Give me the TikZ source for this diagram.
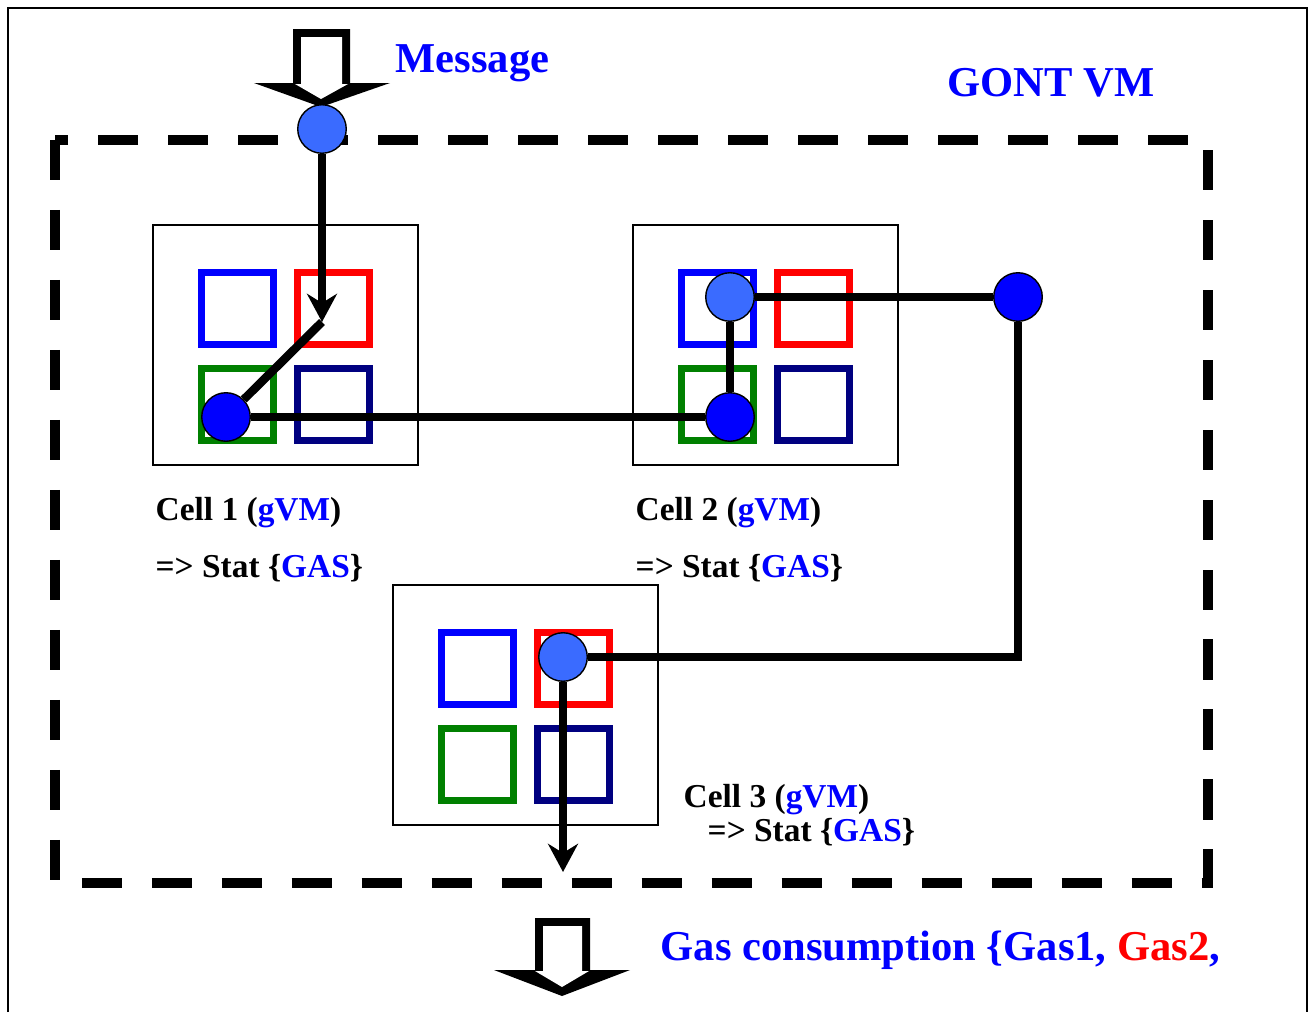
\documentclass[tikz,border=0pt]{standalone}
\usepackage{fontspec}
\setmainfont{Liberation Serif}
\usetikzlibrary{arrows.meta}
\definecolor{gblue}{RGB}{0,0,255}
\definecolor{lblue}{RGB}{58,107,255}
\definecolor{gnavy}{RGB}{0,0,128}
\definecolor{ggreen}{RGB}{0,128,0}
\definecolor{gred}{RGB}{255,0,0}
\tikzset{hub/.style={circle, draw, line width=0.4pt, fill=gblue, minimum size=13.8pt, inner sep=0pt},
  hubl/.style={hub, fill=lblue},
  wire/.style={line width=2.4pt},
  wirearr/.style={wire, -{Stealth[length=8pt,width=8.5pt]}},
  lbl/.style={anchor=base west, inner sep=0pt, font=\bfseries\fontsize{9.5}{11}\selectfont},
  biglbl/.style={lbl, text=gblue, font=\bfseries\fontsize{12.1}{14}\selectfont}}

\begin{document}
\begin{tikzpicture}[x=0.01cm, y=-0.01cm]
  \useasboundingbox (0,0) rectangle (1315,1012);
  \draw[line width=0.6pt] (8,1012) -- (8,8) -- (1307,8) -- (1307,1012); % frame
  % cells with their four gVM squares
  \foreach \x/\y in {153/225, 633/225, 393/585} {
    \draw[line width=0.6pt] (\x,\y) rectangle ++(265,240);
    \draw[gblue, line width=2pt] (\x+48.5,\y+47.5) rectangle ++(72,72);
    \draw[gred, line width=2pt] (\x+144.5,\y+47.5) rectangle ++(72,72);
    \draw[ggreen, line width=2pt] (\x+48.5,\y+143.5) rectangle ++(72,72);
    \draw[gnavy, line width=2pt] (\x+144.5,\y+143.5) rectangle ++(72,72);
  }
  \draw[line width=2.6pt, dash pattern=on 11.4pt off 8.5pt] (55,140) rectangle (1208,883); % GONT VM
  % in and out arrows
  \fill (293,29) -- (350,29) -- (350,83) -- (390,83) -- (321,107) -- (254,83) -- (293,83) -- cycle;
  \fill[white] (301,37) -- (342,37) -- (342,84) -- (348,84) -- (321,99) -- (295,84) -- (301,84) -- cycle;
  \fill (535,918) -- (590,918) -- (590,970) -- (630,970) -- (562,996) -- (494,970) -- (535,970) -- cycle;
  \fill[white] (543,926) -- (582,926) -- (582,971) -- (589,971) -- (562,987) -- (535,971) -- (543,971) -- cycle;
  % hubs
  \node[hubl] (inlet) at (322,129) {};
  \node[hub] (c1) at (226,417) {};
  \node[hubl] (c2a) at (730,297) {};
  \node[hub] (c2b) at (730,417) {};
  \node[hub] (turn) at (1018,297) {};
  \node[hubl] (c3) at (563,657) {};
  \coordinate (kink) at (322,322);
  \coordinate (exit) at (563,872);
  % message path
  \draw[wirearr] (inlet) -- (kink);
  \draw[wire] (kink) -- (c1);
  \draw[wire] (c1) -- (c2b);
  \draw[wire] (c2b) -- (c2a);
  \draw[wire] (c2a) -- (turn);
  \draw[wire] (turn) |- (c3);
  \draw[wirearr] (c3) -- (exit);
  % labels
  \node[biglbl] (message) at (395,72) {Message};
  \node[biglbl] (title) at (947,97) {GONT VM};
  \node[lbl] (cell1) at (155,520) {Cell 1 (\textcolor{gblue}{gVM})};
  \node[lbl] (stat1) at (155,577) {=> Stat \{\textcolor{gblue}{GAS}\}};
  \node[lbl] (cell2) at (635,520) {Cell 2 (\textcolor{gblue}{gVM})};
  \node[lbl] (stat2) at (635,577) {=> Stat \{\textcolor{gblue}{GAS}\}};
  \node[lbl] (cell3) at (683,807) {Cell 3 (\textcolor{gblue}{gVM})};
  \node[lbl] (stat3) at (707,841) {=> Stat \{\textcolor{gblue}{GAS}\}};
  \node[biglbl] (gas) at (660,960) {Gas consumption \{Gas1, \textcolor{gred}{Gas2},};
\end{tikzpicture}
\end{document}
